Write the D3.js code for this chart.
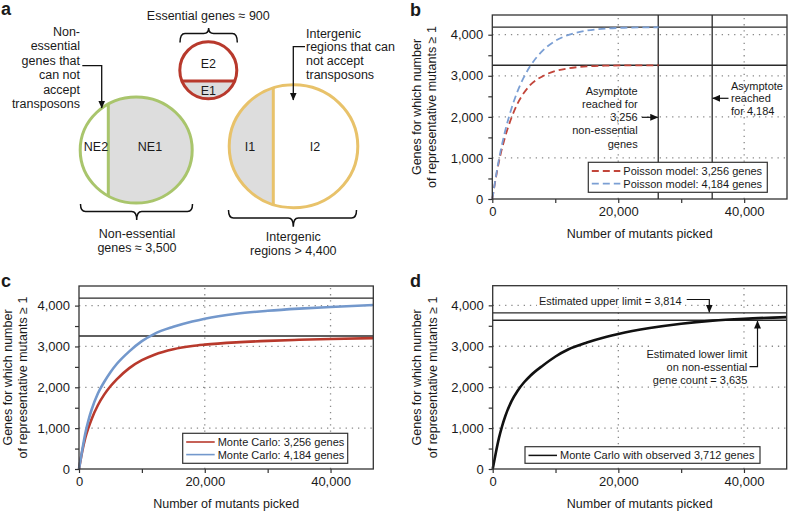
<!DOCTYPE html>
<html><head><meta charset="utf-8">
<script src="https://cdn.jsdelivr.net/npm/d3@7"></script>
<style>
body{margin:0;background:#fff}
svg{display:block}
text{font-family:"Liberation Sans",Arial,Helvetica,sans-serif;fill:#1a1a1a}
</style>
</head><body>
<svg id="fig" width="788" height="511"></svg>
<script>
// ---------- data ----------
const mutantsPoisson = [0, 1000, 2000, 3000, 4000, 5000, 6000, 8000, 10000, 12000, 15000, 18000, 21000, 24000, 26400];
const poisson3256 = [0, 870, 1490, 1960, 2320, 2580, 2770, 2990, 3115, 3180, 3228, 3246, 3252, 3255, 3256];
const poisson4184 = [0, 920, 1630, 2180, 2620, 2960, 3230, 3610, 3850, 3990, 4100, 4150, 4170, 4178, 4182];

const mutantsMC = [0, 500, 1000, 1500, 2000, 3000, 4000, 5000, 6000, 8000, 10000, 12000, 15000, 18000, 20000, 25000, 30000, 35000, 40000, 46800];
const mc3256 = [0, 420, 760, 1010, 1220, 1560, 1820, 2025, 2195, 2470, 2663, 2799, 2932, 3011, 3044, 3100, 3137, 3163, 3183, 3203];
const mc4184 = [0, 450, 870, 1190, 1450, 1850, 2130, 2370, 2570, 2880, 3130, 3310, 3480, 3610, 3680, 3800, 3873, 3925, 3965, 4015];
const mcObserved3712 = [0, 400, 760, 1050, 1290, 1660, 1920, 2120, 2280, 2530, 2750, 2920, 3090, 3225, 3300, 3445, 3552, 3626, 3672, 3712];

const xTicks = [0, 10000, 20000, 30000, 40000];
const xLabelTicks = [0, 20000, 40000];
const yTicks = [0, 500, 1000, 1500, 2000, 2500, 3000, 3500, 4000];
const yLabelTicks = [0, 1000, 2000, 3000, 4000];
const gridX = [20000, 40000];
const gridY = [1000, 2000, 3000, 4000];
const geneTotals = [3256, 4184];
const asymptoteReached = [26350, 34920];
const limitsD = [3814, 3635];

const legendB = ["Poisson model: 3,256 genes", "Poisson model: 4,184 genes"];
const legendC = ["Monte Carlo: 3,256 genes", "Monte Carlo: 4,184 genes"];
const legendD = ["Monte Carlo with observed 3,712 genes"];

const RED = "#b8392c", BLUE = "#7398cc";
const fmt = d3.format(",");
const svg = d3.select("#fig");

// arrow marker
svg.append("defs").append("marker").attr("id","arr")
  .attr("markerUnits","userSpaceOnUse").attr("markerWidth",8).attr("markerHeight",7)
  .attr("refX",7.5).attr("refY",3.5).attr("orient","auto")
  .append("path").attr("d","M0,0 L8,3.5 L0,7 Z").attr("fill","#111");

// ---------- panel letters ----------
[["a",1,15],["b",410,16],["c",1,287],["d",410,287]].forEach(([t,x,y])=>{
  svg.append("text").attr("x",x).attr("y",y).attr("font-size",18).attr("font-weight","bold").text(t);
});

// ---------- panel a ----------
const A = svg.append("g");
const FS = 12.5;
const defs = svg.select("defs");
function part(id, cx, cy, rx, ry, color, clipRect){
  defs.append("clipPath").attr("id",id).append("ellipse").attr("cx",cx).attr("cy",cy).attr("rx",rx).attr("ry",ry);
  A.append("ellipse").attr("cx",cx).attr("cy",cy).attr("rx",rx).attr("ry",ry).attr("fill","#fff");
  A.append("rect").attr("x",clipRect[0]).attr("y",clipRect[1]).attr("width",clipRect[2]).attr("height",clipRect[3])
    .attr("fill","#dddddd").attr("clip-path",`url(#${id})`);
  A.append("ellipse").attr("cx",cx).attr("cy",cy).attr("rx",rx).attr("ry",ry).attr("fill","none").attr("stroke",color).attr("stroke-width",3);
}
function chordV(cx,cy,rx,ry,x){ const h = ry*Math.sqrt(1-Math.pow((x-cx)/rx,2)); return [cy-h, cy+h]; }
// non-essential
part("cNE",136.2,150,56,53,"#a9c56c",[108.3,90,90,120]);
const neC = chordV(136.2,150,56,53,108.3);
A.append("line").attr("x1",108.3).attr("x2",108.3).attr("y1",neC[0]).attr("y2",neC[1]).attr("stroke","#a9c56c").attr("stroke-width",3);
// essential
part("cE",208.3,70.3,28.5,28.5,"#b8392c",[170,81,80,40]);
const eC = chordV(70.3,208.3,28.5,28.5,81);
A.append("line").attr("x1",eC[0]).attr("x2",eC[1]).attr("y1",81).attr("y2",81).attr("stroke","#b8392c").attr("stroke-width",3);
// intergenic
part("cI",293.5,146.3,64.3,61.5,"#e8c26a",[220,80,53.3,140]);
const iC = chordV(293.5,146.3,64.3,61.5,273.3);
A.append("line").attr("x1",273.3).attr("x2",273.3).attr("y1",iC[0]).attr("y2",iC[1]).attr("stroke","#e8c26a").attr("stroke-width",3);

function txt(g, x, y, s, anchor, size){
  return g.append("text").attr("x",x).attr("y",y).attr("text-anchor",anchor||"middle").attr("font-size",size||FS).text(s);
}
txt(A,96,151,"NE2"); txt(A,150,151,"NE1");
txt(A,208.3,67.5,"E2"); txt(A,208.3,94.5,"E1");
txt(A,250,151,"I1"); txt(A,315,151,"I2");
txt(A,208.3,19.5,"Essential genes ≈ 900");
txt(A,137,237.5,"Non-essential"); txt(A,137,251.5,"genes ≈ 3,500");
txt(A,293.3,241,"Intergenic"); txt(A,293.3,255,"regions > 4,400");
["Non-","essential","genes that","can not","accept","transposons"].forEach((s,i)=>txt(A,80,36+i*14.4,s,"end"));
["Intergenic","regions that can","not accept","transposons"].forEach((s,i)=>txt(A,306,37.5+i*13.9,s,"start"));
A.append("path").attr("d","M82.3,65.7 H101.7 V108").attr("fill","none").attr("stroke","#111").attr("stroke-width",1.3).attr("marker-end","url(#arr)");
A.append("path").attr("d","M305,46.7 H293.3 V100").attr("fill","none").attr("stroke","#111").attr("stroke-width",1.3).attr("marker-end","url(#arr)");

function brace(x1,x2,yEnd,yBar,yTip,xm){
  xm = xm===undefined?(x1+x2)/2:xm; const r=5;
  return `M${x1},${yEnd} Q${x1},${yBar} ${x1+r},${yBar} L${xm-r},${yBar} Q${xm},${yBar} ${xm},${yTip} Q${xm},${yBar} ${xm+r},${yBar} L${x2-r},${yBar} Q${x2},${yBar} ${x2},${yEnd}`;
}
A.append("path").attr("d",brace(180,237.3,42.5,33.5,28)).attr("fill","none").attr("stroke","#111").attr("stroke-width",1.5);
A.append("path").attr("d",brace(80.5,192.5,204,211.5,220,136.7)).attr("fill","none").attr("stroke","#111").attr("stroke-width",1.5);
A.append("path").attr("d",brace(228.5,356.5,210,218,226.7,293.3)).attr("fill","none").attr("stroke","#111").attr("stroke-width",1.5);

// ---------- chart panels ----------
function panel(o){
  const g = svg.append("g");
  const x = d3.scaleLinear().domain([0,46800]).range([o.left,o.right]);
  const y = d3.scaleLinear().domain([0,4480]).range([o.bottom,o.top]);
  // grid
  g.selectAll(null).data(gridY).join("line")
    .attr("x1",o.left).attr("x2",o.right).attr("y1",d=>y(d)).attr("y2",d=>y(d))
    .attr("stroke","#8a8a8a").attr("stroke-width",1.3).attr("stroke-dasharray","1.3,4.9");
  g.selectAll(null).data(gridX).join("line")
    .attr("y1",o.bottom).attr("y2",o.top).attr("x1",d=>x(d)).attr("x2",d=>x(d))
    .attr("stroke","#8a8a8a").attr("stroke-width",1.3).attr("stroke-dasharray","1.3,4.9");
  // axes
  const ax = g.append("g").attr("transform",`translate(0,${o.bottom})`)
    .call(d3.axisBottom(x).tickValues(xTicks).tickSize(4).tickPadding(4).tickFormat(d=>xLabelTicks.includes(d)?fmt(d):""));
  const ay = g.append("g").attr("transform",`translate(${o.left},0)`)
    .call(d3.axisLeft(y).tickValues(yTicks).tickSize(4).tickPadding(5).tickFormat(d=>yLabelTicks.includes(d)?fmt(d):""));
  [ax,ay].forEach(a=>{
    a.select(".domain").remove();
    a.selectAll("line").attr("stroke","#333").attr("stroke-width",1.2);
    a.selectAll("text").attr("font-size",13).attr("fill","#1a1a1a").attr("font-family",'"Liberation Sans",Arial,sans-serif');
  });
  // titles
  g.append("text").attr("x",(o.left+o.right)/2).attr("y",o.bottom+38.5).attr("text-anchor","middle").attr("font-size",12.5).text("Number of mutants picked");
  const cy = (o.top+o.bottom)/2;
  g.append("text").attr("transform",`translate(${o.t1+4.5},${cy}) rotate(-90)`).attr("text-anchor","middle").attr("font-size",12.5).text("Genes for which number");
  g.append("text").attr("transform",`translate(${o.t2+4.5},${cy}) rotate(-90)`).attr("text-anchor","middle").attr("font-size",12.5).text("of representative mutants ≥ 1");
  const frame = ()=>g.append("rect").attr("x",o.left).attr("y",o.top).attr("width",o.right-o.left).attr("height",o.bottom-o.top)
    .attr("fill","none").attr("stroke","#333").attr("stroke-width",1.3);
  return {g,x,y,frame};
}
function hline(p,v){ p.g.append("line").attr("x1",p.x.range()[0]).attr("x2",p.x.range()[1]).attr("y1",p.y(v)).attr("y2",p.y(v)).attr("stroke","#2a2a2a").attr("stroke-width",1.3); }
function curve(p, xs, ys, color, width, dash){
  const line = d3.line().x(d=>p.x(d[0])).y(d=>p.y(d[1])).curve(d3.curveMonotoneX);
  p.g.append("path").datum(xs.map((v,i)=>[v,ys[i]])).attr("d",line).attr("fill","none")
    .attr("stroke",color).attr("stroke-width",width).attr("stroke-dasharray",dash||null);
}
function legend(p, x, y, w, h, items){
  p.g.append("rect").attr("x",x).attr("y",y).attr("width",w).attr("height",h).attr("fill","#fff").attr("stroke","#333").attr("stroke-width",1.2);
  items.forEach((it,i)=>{
    const yy = y + 8.7 + i*12.6;
    p.g.append("line").attr("x1",x+3.5).attr("x2",x+32).attr("y1",yy).attr("y2",yy).attr("stroke",it.color).attr("stroke-width",it.w).attr("stroke-dasharray",it.dash||null);
    p.g.append("text").attr("x",x+35).attr("y",yy+4).attr("font-size",11).text(it.label);
  });
}

// ---- panel b ----
const pb = panel({left:492.3,right:787,top:15,bottom:199,t1:416.5,t2:431.5});
geneTotals.forEach(v=>hline(pb,v));
asymptoteReached.forEach(v=>pb.g.append("line").attr("x1",pb.x(v)).attr("x2",pb.x(v)).attr("y1",pb.y(0)).attr("y2",15).attr("stroke","#2a2a2a").attr("stroke-width",1.3));
curve(pb, mutantsPoisson, poisson3256, "#c2453a", 1.8, "7,4");
curve(pb, mutantsPoisson, poisson4184, "#7b9fd4", 1.8, "7,4");
["Asymptote","reached for","3,256","non-essential","genes"].forEach((s,i)=>txt(pb.g,637.7,94.7+i*13.2,s,"end",11));
["Asymptote","reached","for 4,184"].forEach((s,i)=>txt(pb.g,731,89.7+i*12.7,s,"start",11));
pb.g.append("path").attr("d",`M642,117.3 H${pb.x(asymptoteReached[0])-0.5}`).attr("stroke","#111").attr("stroke-width",1.2).attr("marker-end","url(#arr)");
pb.g.append("path").attr("d",`M728.5,98.3 H${pb.x(asymptoteReached[1])+0.5}`).attr("stroke","#111").attr("stroke-width",1.2).attr("marker-end","url(#arr)");
legend(pb,588.3,162.3,179,30,[{label:legendB[0],color:"#c2453a",w:1.8,dash:"7,4"},{label:legendB[1],color:"#7b9fd4",w:1.8,dash:"7,4"}]);
pb.frame();

// ---- panel c ----
const pc = panel({left:79,right:373.3,top:286,bottom:469,t1:7.3,t2:22.5});
geneTotals.forEach(v=>hline(pc,v));
curve(pc, mutantsMC, mc3256, RED, 2.6);
curve(pc, mutantsMC, mc4184, BLUE, 2.6);
legend(pc,182.7,433.3,165,30,[{label:legendC[0],color:RED,w:1.6},{label:legendC[1],color:BLUE,w:1.6}]);
pc.frame();

// ---- panel d ----
const pd = panel({left:492.7,right:786.7,top:285.7,bottom:469,t1:416.5,t2:432});
limitsD.forEach(v=>hline(pd,v));
curve(pd, mutantsMC, mcObserved3712, "#111", 2.6);
pd.g.append("rect").attr("x",537).attr("y",293).attr("width",148).attr("height",14).attr("fill","#fff");
txt(pd.g,681.7,305,"Estimated upper limit = 3,814","end",11);
pd.g.append("path").attr("d",`M686.7,299.5 H709.3 V${pd.y(limitsD[0])-0.8}`).attr("fill","none").attr("stroke","#111").attr("stroke-width",1.2).attr("marker-end","url(#arr)");
pd.g.append("rect").attr("x",652).attr("y",345).attr("width",97).attr("height",41).attr("fill","#fff");
["Estimated lower limit","on non-essential","gene count = 3,635"].forEach((s,i)=>txt(pd.g,747.3,358+i*13,s,"end",11));
pd.g.append("path").attr("d",`M749.5,366.7 H757.5 V${pd.y(limitsD[1])+0.8}`).attr("fill","none").attr("stroke","#111").attr("stroke-width",1.2).attr("marker-end","url(#arr)");
legend(pd,525,446.7,235,16.6,[{label:legendD[0],color:"#111",w:1.5}]);
pd.frame();
</script>
</body></html>
